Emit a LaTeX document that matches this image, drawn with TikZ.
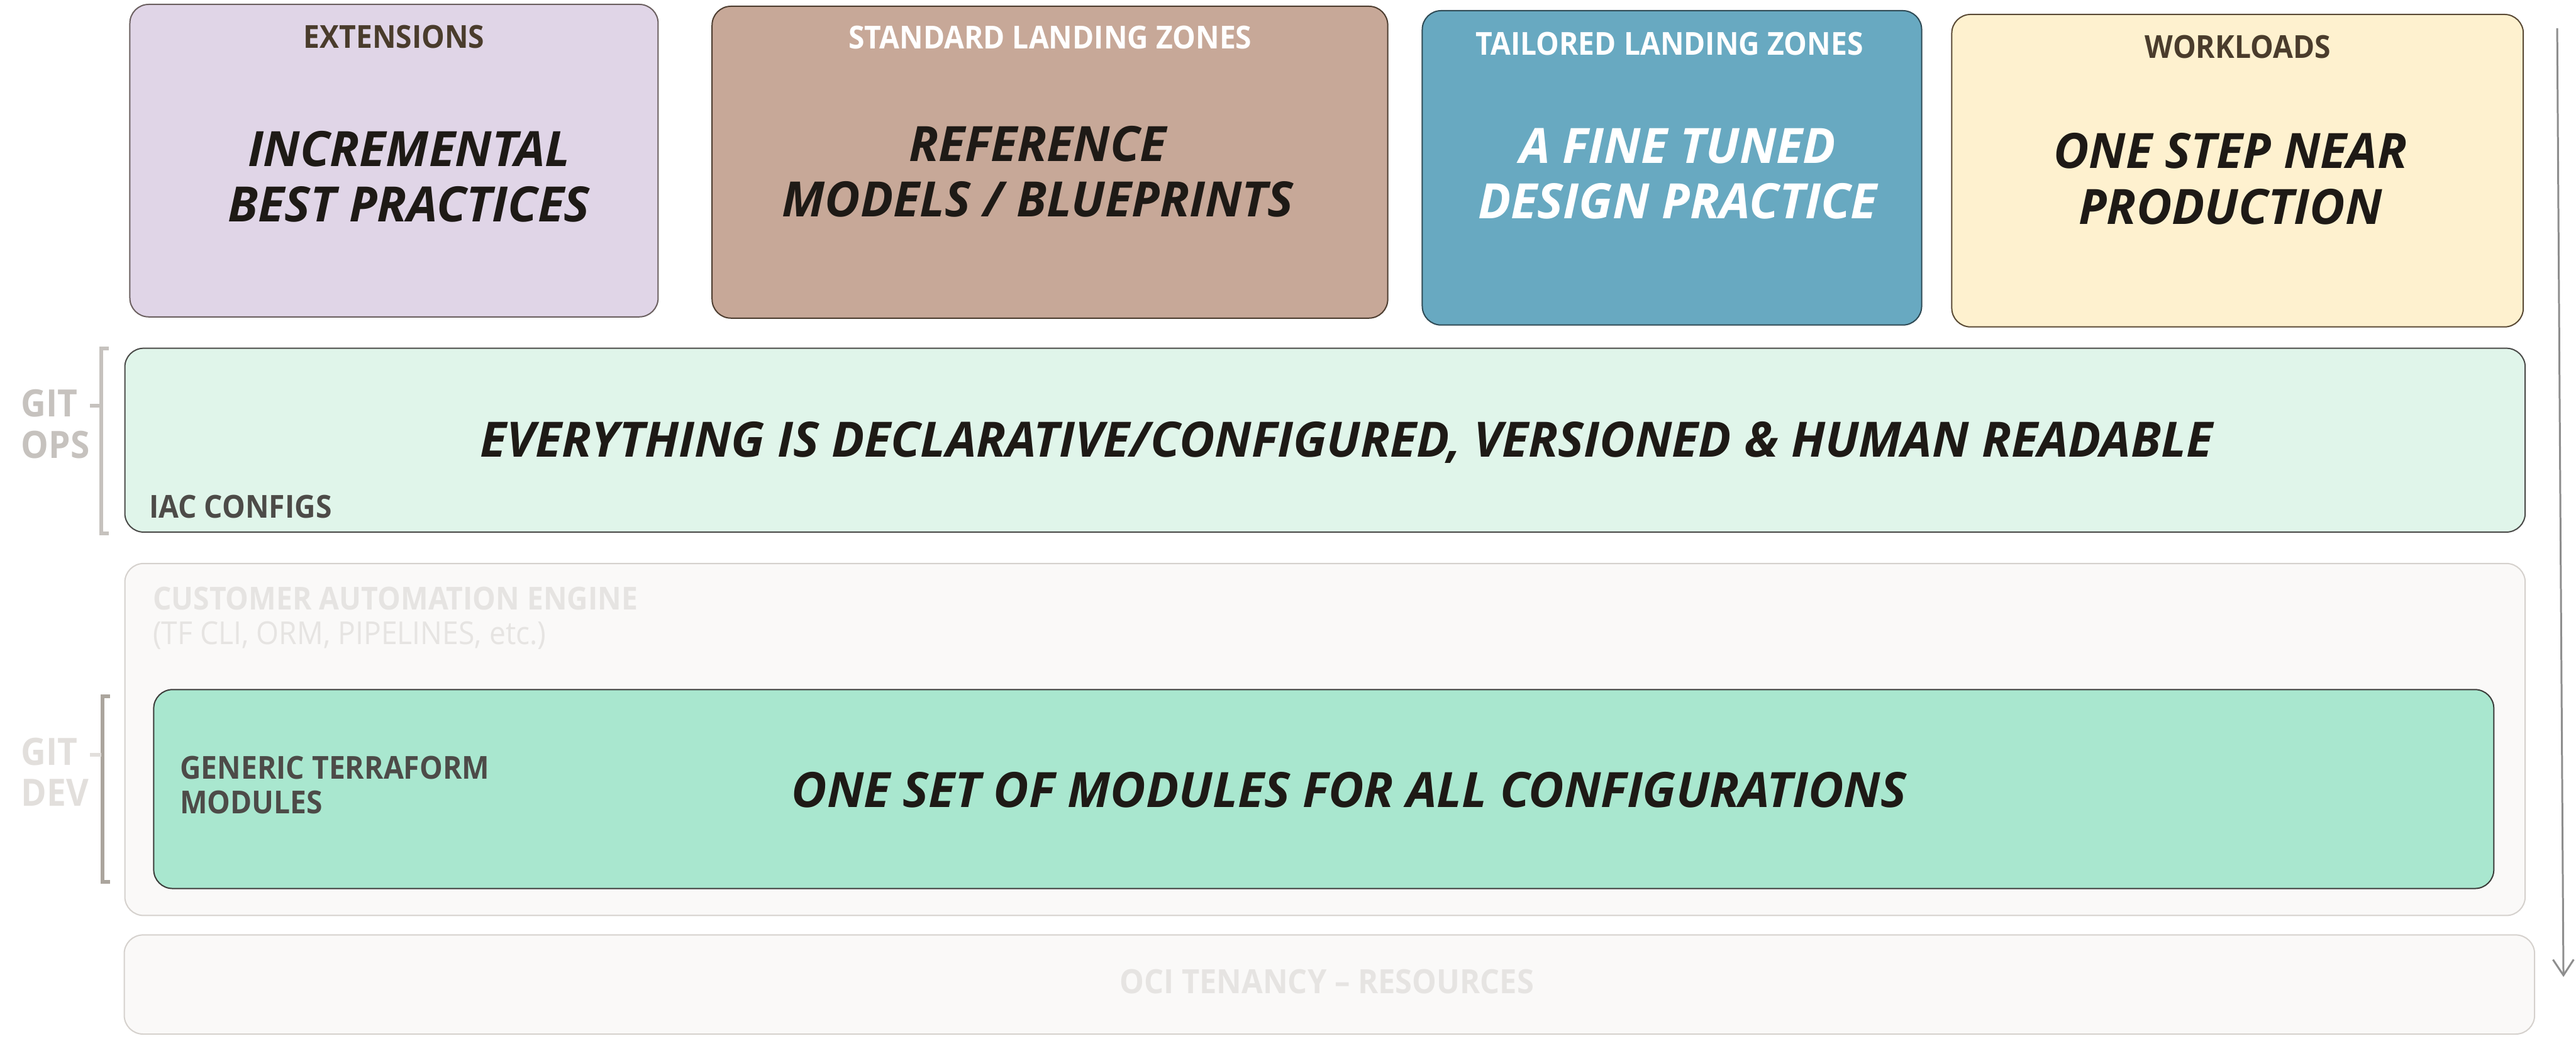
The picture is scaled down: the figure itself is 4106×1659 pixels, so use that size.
\documentclass[tikz,border=0pt]{standalone}
\usepackage{fontspec}
\setmainfont{Open Sans}
\newfontfamily\capfont[FakeStretch=0.92]{Open Sans}
\usetikzlibrary{arrows.meta}
\definecolor{extfill}{HTML}{E0D5E7}
\definecolor{extdraw}{HTML}{6B6060}
\definecolor{stdfill}{HTML}{C7A898}
\definecolor{stddraw}{HTML}{4D3D30}
\definecolor{tailfill}{HTML}{68A9C1}
\definecolor{taildraw}{HTML}{2E4A55}
\definecolor{workfill}{HTML}{FEF1CF}
\definecolor{workdraw}{HTML}{5A4A35}
\definecolor{iacfill}{HTML}{E0F5EA}
\definecolor{iacdraw}{HTML}{4A4A48}
\definecolor{gtmfill}{HTML}{A9E7CF}
\definecolor{gtmdraw}{HTML}{3C3C3A}
\definecolor{ghostfill}{HTML}{FAF9F8}
\definecolor{ghostdraw}{HTML}{D5D1CD}
\definecolor{darktxt}{HTML}{1E1A16}
\definecolor{browntxt}{HTML}{4A3C2C}
\definecolor{captxt}{HTML}{4D4B48}
\definecolor{ghosttxt}{HTML}{E6E4E2}
\definecolor{opstxt}{HTML}{C6C2BE}
\definecolor{devtxt}{HTML}{E2DFDC}
\definecolor{devbr}{HTML}{ABA59D}
\definecolor{arrowgray}{HTML}{8E8E8E}
\begin{document}
\begin{tikzpicture}[x=0.25pt,y=-0.25pt,
  tile/.style={draw, line width=0.5pt, rounded corners=7.5pt, inner sep=0pt},
  bigtxt/.style={font=\fontsize{19.4}{22}\selectfont\bfseries\itshape, text=darktxt, anchor=base, inner sep=0pt},
  titletxt/.style={font=\capfont\fontsize{12.6}{14}\selectfont\bfseries, anchor=base, inner sep=0pt},
  captext/.style={font=\capfont\fontsize{12.6}{14}\selectfont\bfseries, text=captxt, anchor=base west, inner sep=0pt},
  gittxt/.style={font=\capfont\fontsize{15}{17}\selectfont\bfseries, anchor=base west, inner sep=0pt},
  bracketline/.style={line width=1.5pt},
  arrowline/.style={draw=arrowgray, line width=0.75pt, -{Straight Barb[length=6.25pt, width=8.25pt]}}
]
\useasboundingbox (0,0) rectangle (4106,1659);

% top tiles
\node[tile, fill=extfill, draw=extdraw, minimum width=210.5pt, minimum height=124.5pt] (ext) at (628,256) {};
\node[tile, fill=stdfill, draw=stddraw, minimum width=269.25pt, minimum height=124.25pt] (std) at (1673.5,258.5) {};
\node[tile, fill=tailfill, draw=taildraw, minimum width=199pt, minimum height=125.25pt] (tail) at (2665,267.5) {};
\node[tile, fill=workfill, draw=workdraw, minimum width=227.75pt, minimum height=124.5pt] (work) at (3566.5,272) {};

% wide layers
\node[tile, fill=iacfill, draw=iacdraw, minimum width=956.5pt, minimum height=73.25pt] (iac) at (2112,701.5) {};
\node[tile, fill=ghostfill, draw=ghostdraw, minimum width=956.5pt, minimum height=140.25pt] (cae) at (2112,1178.5) {};
\node[tile, fill=gtmfill, draw=gtmdraw, minimum width=932.5pt, minimum height=79.25pt] (gtm) at (2110,1257.5) {};
\node[tile, fill=ghostfill, draw=ghostdraw, minimum width=960.5pt, minimum height=39.5pt] (oci) at (2119,1569) {};

% titles
\node[titletxt, text=browntxt] (extT) at (628,77) {EXTENSIONS};
\node[titletxt, text=white] (stdT) at (1674,78) {STANDARD LANDING ZONES};
\node[titletxt, text=white] (tailT) at (2661,88) {TAILORED LANDING ZONES};
\node[titletxt, text=browntxt] (workT) at (3567,93) {WORKLOADS};

% big texts
\node[bigtxt] (ext1) at (652,265) {INCREMENTAL};
\node[bigtxt] (ext2) at (652,353) {BEST PRACTICES};
\node[bigtxt] (std1) at (1654,257) {REFERENCE};
\node[bigtxt] (std2) at (1654,345) {MODELS / BLUEPRINTS};
\node[bigtxt, text=white] (tail1) at (2674,260) {A FINE TUNED};
\node[bigtxt, text=white] (tail2) at (2674,348) {DESIGN PRACTICE};
\node[bigtxt] (work1) at (3555,268) {ONE STEP NEAR};
\node[bigtxt] (work2) at (3555,357) {PRODUCTION};
\node[bigtxt] (iacM) at (2146,728) {EVERYTHING IS DECLARATIVE/CONFIGURED, VERSIONED \& HUMAN READABLE};
\node[bigtxt] (gtmM) at (2150,1287) {ONE SET OF MODULES FOR ALL CONFIGURATIONS};

% captions
\node[captext] (iacC) at (237,826) {IAC CONFIGS};
\node[captext] (gtmC1) at (286,1242) {GENERIC TERRAFORM};
\node[captext] (gtmC2) at (286,1297) {MODULES};
\node[captext, text=ghosttxt] (caeC1) at (243,972) {CUSTOMER AUTOMATION ENGINE};
\node[captext, text=ghosttxt, font=\capfont\fontsize{12.6}{14}\selectfont] (caeC2) at (243,1027) {(TF CLI, ORM, PIPELINES, etc.)};
\node[font=\capfont\fontsize{13.3}{15}\selectfont\bfseries, text=ghosttxt, anchor=base, inner sep=0pt] (ociT) at (2115,1583) {OCI TENANCY – RESOURCES};

% git labels and brackets
\node[gittxt, text=opstxt] (ops1) at (33,664) {GIT};
\node[gittxt, text=opstxt] (ops2) at (33,730) {OPS};
\node[gittxt, text=devtxt] (dev1) at (33,1219) {GIT};
\node[gittxt, text=devtxt] (dev2) at (33,1285) {DEV};
\draw[bracketline, draw=opstxt] (173,555) -- (161,555) -- (161,850) -- (173,850);
\draw[bracketline, draw=opstxt] (161,647) -- (143,647);
\draw[bracketline, draw=devbr] (175,1110) -- (163,1110) -- (163,1405) -- (175,1405);
\draw[bracketline, draw=devtxt] (161,1203) -- (143,1203);

% flow arrow
\coordinate (arrtop) at (4076,45);
\coordinate (arrtip) at (4086,1557);
\draw[arrowline] (arrtop) -- (arrtip);
\end{tikzpicture}
\end{document}
